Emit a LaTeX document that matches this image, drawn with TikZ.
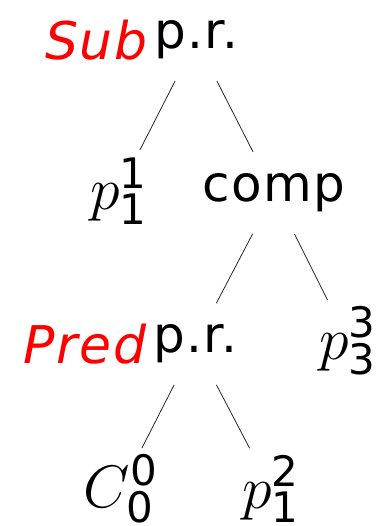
\RequirePackage{fix-cm}
\documentclass[tikz,border=0pt]{standalone}
\usepackage{fontspec}
\setsansfont[LetterSpace=3]{DejaVu Sans}
\usetikzlibrary{positioning}
\tikzset{
  term/.style={inner sep=1pt,font=\fontsize{25}{29}\selectfont\sffamily},
  leaf/.style={inner sep=1pt,font=\fontsize{30}{36}\selectfont\sffamily},
  tag/.style={term,text=red,font=\fontsize{26}{30}\selectfont\sffamily\itshape},
  twig/.style={thin,black!85,shorten <=23pt,shorten >=23pt}
}
\begin{document}
\begin{tikzpicture}[x=0.5pt,y=-0.5pt]
\useasboundingbox (0,0) rectangle (378,526);
% level 0
\node[term] (root) at (196,40) {p.r.};
\node[tag,left=1pt of root] (sub) {Sub};
% level 1
\node[leaf] (p11) at (119,191) {$p_{\mathsf{1}}^{\mathsf{1}}$};
\node[term] (comp) at (274,193) {comp};
% level 2
\node[term] (pr) at (195,344) {p.r.};
\node[tag,left=1pt of pr] (pred) {Pred};
\node[leaf] (p33) at (348,341) {$p_{\mathsf{3}}^{\mathsf{3}}$};
% level 3
\node[leaf] (c00) at (121,489) {$C_{\mathsf{0}}^{\mathsf{0}}$};
\node[leaf] (p12) at (271,489) {$p_{\mathsf{1}}^{\mathsf{2}}$};
% edges
\draw[twig] (root.center) -- (p11.center);
\draw[twig] (root.center) -- (comp.center);
\draw[twig] (comp.center) -- (pr.center);
\draw[twig] (comp.center) -- (p33.center);
\draw[twig] (pr.center) -- (c00.center);
\draw[twig] (pr.center) -- (p12.center);
\end{tikzpicture}
\end{document}
